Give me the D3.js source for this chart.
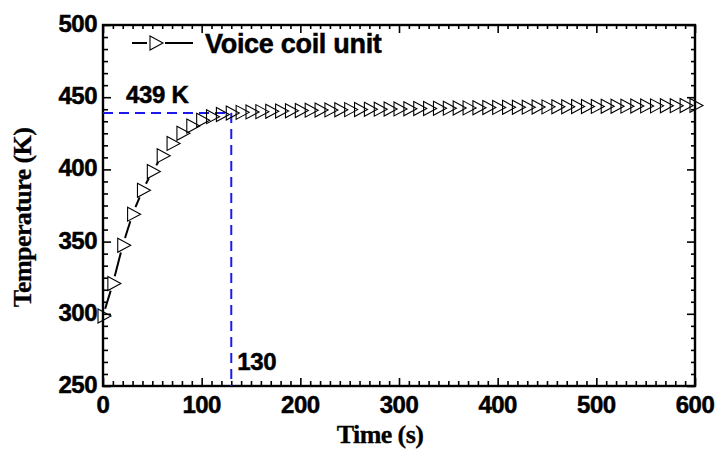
<!DOCTYPE html>
<html>
<head>
<meta charset="utf-8">
<script src="https://cdn.jsdelivr.net/npm/d3@7"></script>
<style>
  html, body { margin: 0; padding: 0; background: #fff; }
  svg { display: block; }
  .tick-label { font-family: "Liberation Sans", Arial, sans-serif; font-weight: bold; font-size: 24px; fill: #000; stroke: #000; stroke-width: 0.5px; letter-spacing: -0.5px; }
  .axis-title { font-family: "Liberation Serif", "Times New Roman", serif; font-weight: bold; font-size: 26px; fill: #000; stroke: #000; stroke-width: 0.3px; letter-spacing: -0.6px; }
  .annot { font-family: "Liberation Sans", Arial, sans-serif; font-weight: bold; font-size: 24px; fill: #000; stroke: #000; stroke-width: 0.5px; letter-spacing: -0.3px; }
</style>
</head>
<body>
<script>
// ---- data ----
const seriesName = "Voice coil unit";
const timeValues = d3.range(0, 601, 10);
const temperatureValues = [
  298.5, 321, 347.5, 369, 385.5, 398.5, 409.5, 418, 425, 430,
  434, 436.5, 438, 439, 439.5, 439.8, 440, 440.2, 440.4, 440.6,
  440.8, 441, 441.1, 441.2, 441.3, 441.4, 441.5, 441.6, 441.7, 441.8,
  441.9, 442, 442.1, 442.2, 442.3, 442.4, 442.5, 442.6, 442.7, 442.8,
  442.9, 443, 443.05, 443.1, 443.2, 443.3, 443.35, 443.4, 443.5, 443.55,
  443.6, 443.7, 443.75, 443.8, 443.9, 443.95, 444, 444.1, 444.15, 444.2,
  444.3
];
const xTicks = [0, 100, 200, 300, 400, 500, 600];
const yTicks = [250, 300, 350, 400, 450, 500];
const markTime = 130;
const markTemp = 439;
const markTempLabel = "439 K";
const markTimeLabel = "130";
const xTitle = "Time (s)";
const yTitle = "Temperature (K)";

// ---- layout ----
const W = 718, H = 452;
const m = { left: 103, right: 23, top: 25, bottom: 66 };
const iw = W - m.left - m.right, ih = H - m.top - m.bottom;

const svg = d3.select("body").append("svg").attr("width", W).attr("height", H);
const g = svg.append("g").attr("transform", `translate(${m.left},${m.top})`);

const x = d3.scaleLinear().domain([0, 600]).range([0, iw]);
const y = d3.scaleLinear().domain([250, 500]).range([ih, 0]);

const xMinor = d3.range(0, 601, 10).filter(v => v % 100 !== 0);
const yMinor = d3.range(0, 31).map(i => 250 + i * 50 / 6).filter((v, i) => i % 6 !== 0);

function tickSet(axisGen, tr) {
  const a = g.append("g").attr("transform", tr).call(axisGen);
  a.selectAll(".domain").remove();
  a.selectAll("line").attr("stroke", "#000").attr("stroke-width", 1.6);
  a.selectAll("text").remove();
  return a;
}
// inward ticks on all four sides
tickSet(d3.axisBottom(x).tickValues(xTicks).tickSize(-8), `translate(0,${ih})`);
tickSet(d3.axisBottom(x).tickValues(xMinor).tickSize(-5), `translate(0,${ih})`);
tickSet(d3.axisTop(x).tickValues(xTicks).tickSize(-8), `translate(0,0)`);
tickSet(d3.axisTop(x).tickValues(xMinor).tickSize(-4), `translate(0,0)`);
tickSet(d3.axisLeft(y).tickValues(yTicks).tickSize(-8), `translate(0,0)`);
tickSet(d3.axisLeft(y).tickValues(yMinor).tickSize(-5), `translate(0,0)`);
tickSet(d3.axisRight(y).tickValues(yTicks).tickSize(-8), `translate(${iw},0)`);
tickSet(d3.axisRight(y).tickValues(yMinor).tickSize(-4), `translate(${iw},0)`);

// frame
g.append("rect").attr("x", 0).attr("y", 0).attr("width", iw).attr("height", ih)
  .attr("fill", "none").attr("stroke", "#000").attr("stroke-width", 2.4);

// tick labels
g.append("g").selectAll("text").data(xTicks).join("text")
  .attr("class", "tick-label").attr("x", d => x(d)).attr("y", ih + 27)
  .attr("text-anchor", "middle").text(d => d);
g.append("g").selectAll("text").data(yTicks).join("text")
  .attr("class", "tick-label").attr("x", -6).attr("y", d => y(d) + 7)
  .attr("text-anchor", "end").text(d => d);

// axis titles
svg.append("text").attr("class", "axis-title")
  .attr("x", m.left + iw / 2 - 19).attr("y", 443).attr("text-anchor", "middle").text(xTitle);
svg.append("text").attr("class", "axis-title")
  .attr("transform", `translate(31,${m.top + ih / 2 + 12}) rotate(-90)`)
  .attr("text-anchor", "middle").text(yTitle);

// blue dashed guides
const blue = "#1a1aee";
g.append("line").attr("x1", x(0)).attr("x2", x(markTime)).attr("y1", y(markTemp)).attr("y2", y(markTemp))
  .attr("stroke", blue).attr("stroke-width", 2).attr("stroke-dasharray", "10,6");
g.append("line").attr("x1", x(markTime)).attr("x2", x(markTime)).attr("y1", y(markTemp)).attr("y2", y(250))
  .attr("stroke", blue).attr("stroke-width", 2).attr("stroke-dasharray", "10,6");

g.append("text").attr("class", "annot").attr("x", x(0) + 23).attr("y", y(markTemp) - 10).text(markTempLabel);
g.append("text").attr("class", "annot").attr("x", x(markTime) + 6).attr("y", y(250) - 16).text(markTimeLabel);

// data
const pts = timeValues.map((t, i) => [x(t), y(temperatureValues[i])]);
const gap = 7.5;
const segs = [];
for (let i = 0; i < pts.length - 1; i++) {
  const [x1, y1] = pts[i], [x2, y2] = pts[i + 1];
  const L = Math.hypot(x2 - x1, y2 - y1);
  if (L <= 2 * gap + 1) continue;
  const ux = (x2 - x1) / L, uy = (y2 - y1) / L;
  segs.push([x1 + ux * gap, y1 + uy * gap, x2 - ux * gap, y2 - uy * gap]);
}
g.append("g").selectAll("line").data(segs).join("line")
  .attr("x1", d => d[0]).attr("y1", d => d[1]).attr("x2", d => d[2]).attr("y2", d => d[3])
  .attr("stroke", "#000").attr("stroke-width", 2);

const tri = "M-5,-7L8,0L-5,7Z";
g.append("g").selectAll("path").data(pts).join("path")
  .attr("d", tri).attr("transform", d => `translate(${d[0]},${d[1]})`)
  .attr("fill", "none").attr("stroke", "#000").attr("stroke-width", 1.1);

// legend
const lg = svg.append("g");
const ly = 43;
lg.append("line").attr("x1", 132).attr("x2", 147).attr("y1", ly).attr("y2", ly).attr("stroke", "#000").attr("stroke-width", 2);
lg.append("path").attr("d", tri).attr("transform", `translate(155,${ly})`).attr("fill", "none").attr("stroke", "#000").attr("stroke-width", 1.1);
lg.append("line").attr("x1", 165).attr("x2", 193).attr("y1", ly).attr("y2", ly).attr("stroke", "#000").attr("stroke-width", 2);
lg.append("text").attr("class", "annot").style("font-size", "27px").attr("x", 205).attr("y", 53).text(seriesName);
</script>
</body>
</html>
